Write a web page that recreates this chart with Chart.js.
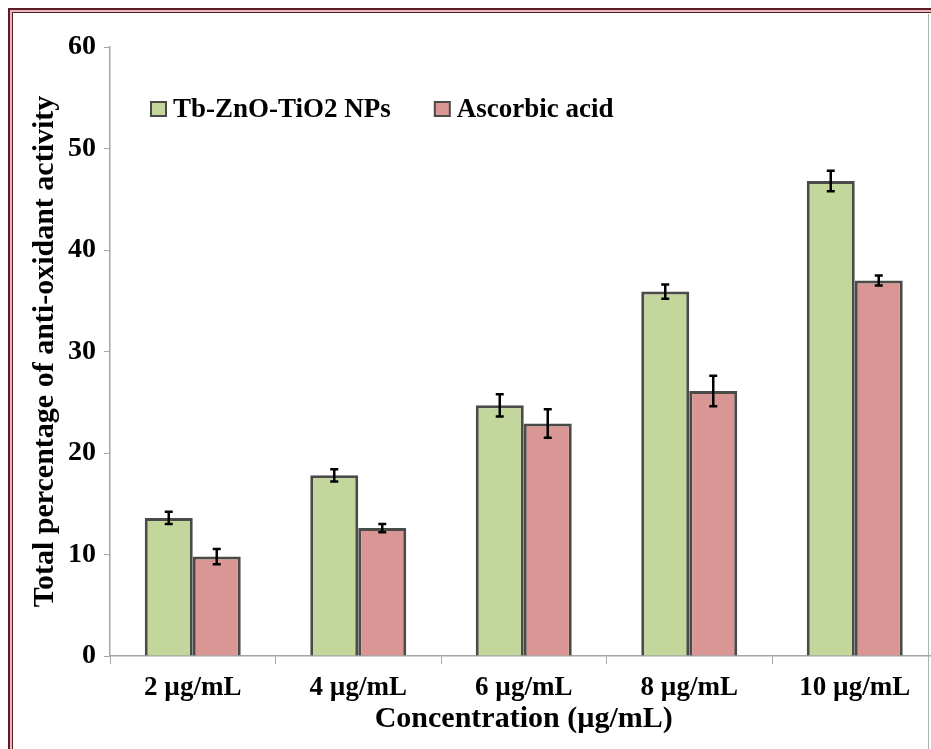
<!DOCTYPE html>
<html>
<head>
<meta charset="utf-8">
<script src="https://cdn.jsdelivr.net/npm/chart.js@4.4.1/dist/chart.umd.min.js"></script>
<style>
  html, body { margin: 0; padding: 0; background: #fff; overflow: hidden; }
  #wrap { position: relative; width: 931px; height: 749px; overflow: hidden; }
  #frame {
    position: absolute; left: 8px; top: 8px; width: 950px; height: 780px;
    border: 2px solid #5c1e26;
    box-shadow: inset 0 0 0 2px #e7b9bd, inset 0 0 0 3px #5c1e26;
    pointer-events: none;
  }
  #edge { position: absolute; left: 928px; top: 14px; width: 1px; height: 735px; background: #b0b0b0; }
  canvas { position: absolute; left: 0; top: 0; }
</style>
</head>
<body>
<div id="wrap">
  <div id="frame"></div>
  <div id="edge"></div>
  <canvas id="barChart" width="945" height="749"></canvas>
</div>
<script>
var categories = ["2 µg/mL", "4 µg/mL", "6 µg/mL", "8 µg/mL", "10 µg/mL"];

var seriesNames = ["Tb-ZnO-TiO2 NPs", "Ascorbic acid"];

var tbValues = [13.6, 17.8, 24.7, 35.9, 46.8];
var tbErrors = [0.6, 0.6, 1.1, 0.7, 1.0];

var acidValues = [9.8, 12.6, 22.9, 26.1, 37.0];
var acidErrors = [0.75, 0.4, 1.4, 1.5, 0.5];

var yTicks = [0, 10, 20, 30, 40, 50, 60];

var fillColors = ["#c3d69b", "#d99694"];
var edgeColor = "#4a4a46";
var font = "'Liberation Serif', 'Times New Roman', serif";

// error bars, drawn from the bar elements and the y scale
var errorBars = {
  id: 'errorBars',
  afterDatasetsDraw: function (chart) {
    var ctx = chart.ctx;
    var y = chart.scales.y;
    ctx.save();
    ctx.strokeStyle = '#000';
    ctx.lineWidth = 2.5;
    chart.data.datasets.forEach(function (ds, i) {
      var meta = chart.getDatasetMeta(i);
      meta.data.forEach(function (bar, j) {
        var v = ds.data[j], e = ds.errors[j];
        var top = y.getPixelForValue(v + e);
        var bot = y.getPixelForValue(v - e);
        ctx.beginPath();
        ctx.moveTo(bar.x, top); ctx.lineTo(bar.x, bot);
        ctx.moveTo(bar.x - 4, top); ctx.lineTo(bar.x + 4, top);
        ctx.moveTo(bar.x - 4, bot); ctx.lineTo(bar.x + 4, bot);
        ctx.stroke();
      });
    });
    ctx.restore();
  }
};

// legend inside the plot area, top left
var insideLegend = {
  id: 'insideLegend',
  afterDraw: function (chart) {
    var ctx = chart.ctx;
    var area = chart.chartArea;
    var x = area.left + 41;
    var yMid = area.top + 62;
    ctx.save();
    ctx.font = "bold 27px " + font;
    ctx.textBaseline = 'middle';
    chart.data.datasets.forEach(function (ds) {
      ctx.fillStyle = ds.backgroundColor;
      ctx.fillRect(x, yMid - 7, 15, 14);
      ctx.strokeStyle = edgeColor;
      ctx.lineWidth = 2;
      ctx.strokeRect(x, yMid - 7, 15, 14);
      ctx.fillStyle = '#000';
      ctx.fillText(ds.label, x + 22, yMid + 1);
      x += 22 + ctx.measureText(ds.label).width + 44;
    });
    ctx.restore();
  }
};

var ctx = document.getElementById('barChart').getContext('2d');

new Chart(ctx, {
  type: 'bar',
  data: {
    labels: categories,
    datasets: [{
      label: seriesNames[0],
      data: tbValues,
      errors: tbErrors,
      backgroundColor: fillColors[0],
      borderColor: edgeColor,
      borderWidth: 3
    }, {
      label: seriesNames[1],
      data: acidValues,
      errors: acidErrors,
      backgroundColor: fillColors[1],
      borderColor: edgeColor,
      borderWidth: 3
    }]
  },
  options: {
    responsive: false,
    animation: false,
    layout: { padding: { left: 0, top: 47, right: 7.5, bottom: 0 } },
    datasets: { bar: { categoryPercentage: 0.58, barPercentage: 1.0 } },
    plugins: {
      legend: { display: false },
      tooltip: { enabled: false }
    },
    scales: {
      x: {
        grid: { drawOnChartArea: false, drawTicks: true, tickLength: 8, color: '#a6a6a6', offset: true },
        border: { color: '#a6a6a6', width: 1.5 },
        ticks: { color: '#000', padding: 8, font: { family: font, size: 27, weight: 'bold' } },
        title: {
          display: true,
          text: 'Concentration (µg/mL)',
          color: '#000',
          font: { family: font, size: 30, weight: 'bold' },
          padding: { top: 0, bottom: 12 }
        },
        afterFit: function (scale) { scale.height = 93; }
      },
      y: {
        min: 0,
        max: 60,
        afterBuildTicks: function (scale) {
          scale.ticks = yTicks.map(function (v) { return { value: v }; });
        },
        grid: { drawOnChartArea: false, drawTicks: true, tickLength: 6, color: '#a6a6a6' },
        border: { color: '#a6a6a6', width: 1.5 },
        ticks: { color: '#000', padding: 8, font: { family: font, size: 28, weight: 'bold' } },
        title: {
          display: true,
          text: 'Total percentage of anti-oxidant activity',
          color: '#000',
          font: { family: font, size: 30, weight: 'bold' },
          padding: { top: 27, bottom: 0 }
        },
        afterFit: function (scale) { scale.width = 110; }
      }
    }
  },
  plugins: [errorBars, insideLegend]
});
</script>
</body>
</html>
